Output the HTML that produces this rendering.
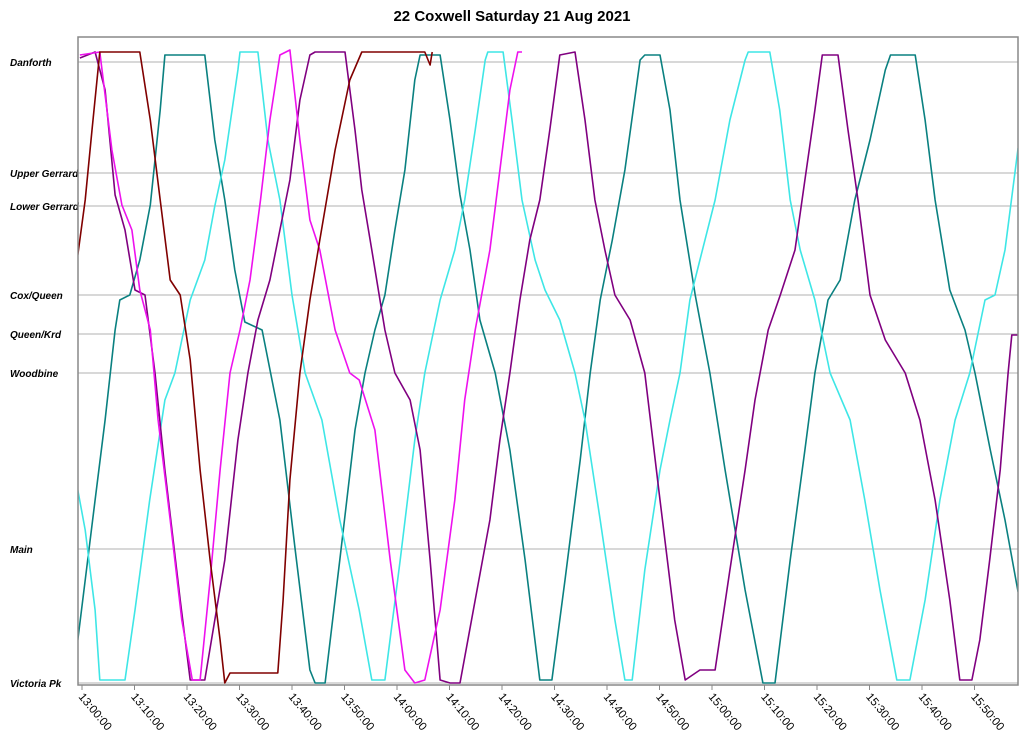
<!DOCTYPE html>
<html><head><meta charset="utf-8"><style>
body{margin:0;background:#fff;font-family:"Liberation Sans",sans-serif}
svg{display:block}
</style></head><body>
<svg id="chart" width="1024" height="744" xmlns="http://www.w3.org/2000/svg">
<rect width="1024" height="744" fill="#fff"/>
<text x="512" y="21" text-anchor="middle" font-family="Liberation Sans" font-weight="bold" font-size="15">22 Coxwell Saturday 21 Aug 2021</text>
<g id="grid"></g><g id="ylabels"></g><g id="xlabels"></g>
<clipPath id="clip"><rect x="78" y="37" width="940" height="648"/></clipPath>
<g id="series" clip-path="url(#clip)"></g>
<rect x="78" y="37" width="940" height="648" fill="none" stroke="#888" stroke-width="1.5"/>
</svg>
<script>
const stopNames=["Danforth","Upper Gerrard","Lower Gerrard","Cox/Queen","Queen/Krd","Woodbine","Main","Victoria Pk"];
const stopPos=[0,111,144,233,272,311,487,621];
const tickMinutes=[0,10,20,30,40,50,60,70,80,90,100,110,120,130,140,150,160,170];
const tickLabels=["13:00:00","13:10:00","13:20:00","13:30:00","13:40:00","13:50:00","14:00:00","14:10:00","14:20:00","14:30:00","14:40:00","14:50:00","15:00:00","15:10:00","15:20:00","15:30:00","15:40:00","15:50:00"];
const tealT=[-0.8,2.5,4.4,6.3,7.2,9.1,11.0,13.0,14.9,15.8,23.4,25.3,27.2,29.1,31.0,34.3,37.7,40.6,43.4,44.4,46.3,49.1,52.0,53.9,55.8,57.7,59.6,61.5,63.4,64.4,68.2,70.1,72.0,73.9,75.8,78.7,81.5,84.4,87.2,89.5,92.0,94.9,96.8,98.7,101.0,103.4,106.3,107.2,110.1,112.0,113.9,116.8,119.6,122.5,126.3,129.7,132.0,134.9,137.7,139.6,142.1,144.4,147.2,150.1,153.0,154.0,158.7,160.6,162.5,165.3,168.2,170.1,173.0,175.8,178.3];
const tealP=[578,438,358,268,238,233,198,143,48,-7,-7,78,138,208,260,268,358,487,608,621,621,498,368,311,268,233,168,108,18,-7,-7,58,133,188,258,311,388,498,618,618,518,398,311,238,178,108,-2,-7,-7,48,138,233,311,408,528,621,621,498,388,311,238,218,138,78,8,-7,-7,58,138,228,268,311,388,458,530];
const cyanT=[-0.8,0.6,2.5,3.4,8.2,10.1,12.9,15.8,17.7,20.6,23.4,25.3,27.2,29.7,30.1,33.5,35.4,37.7,40.0,42.5,45.7,49.1,52.8,55.2,57.7,60.6,63.4,65.3,68.2,71.0,72.9,74.9,76.8,77.3,80.2,81.9,83.8,86.3,88.2,91.0,93.9,95.8,98.7,101.5,103.4,104.8,107.2,110.1,112.0,113.9,115.8,117.7,120.6,123.4,126.3,126.9,131.0,132.9,134.9,136.8,139.6,142.5,146.3,149.1,152.0,155.2,157.7,160.6,163.4,166.3,169.1,172.0,173.9,175.8,178.3];
const cyanP=[428,468,548,618,618,548,438,338,311,238,198,144,98,8,-10,-10,78,138,233,311,358,458,548,618,618,498,378,311,238,188,138,68,-2,-10,-10,58,138,198,228,258,311,358,458,558,618,618,508,408,358,311,238,198,138,58,-2,-10,-10,48,138,188,238,311,358,438,528,618,618,538,438,358,311,238,233,188,86];
const purpleT=[-0.4,2.5,4.4,6.3,8.2,10.1,12.0,13.9,15.8,18.7,20.6,23.4,25.3,27.2,29.7,31.6,33.5,35.8,37.7,39.6,41.5,43.4,44.4,50.1,52.0,53.3,55.2,57.7,59.6,62.5,64.4,66.3,68.2,70.1,72.0,74.9,77.7,79.6,81.5,83.4,85.3,87.2,89.1,91.0,93.9,95.8,97.7,99.6,101.5,104.4,107.2,110.1,112.9,114.9,117.7,120.6,123.4,126.3,128.2,130.7,133.0,135.8,137.7,139.6,141.0,144.0,145.9,147.8,150.1,153.0,156.8,159.6,162.5,165.3,167.2,169.5,171.0,172.9,174.9,176.4,177.1,178.3];
const purpleP=[-4,-10,28,133,168,228,233,311,408,538,618,618,558,498,378,311,258,218,168,118,38,-7,-10,-10,68,128,188,268,311,338,388,498,618,621,621,538,458,378,311,238,178,138,68,-7,-10,58,138,188,233,258,311,438,558,618,608,608,508,408,338,268,233,188,118,48,-7,-7,68,138,233,278,311,358,438,538,618,618,578,498,408,311,273,273];
const magentaT=[-0.4,3.4,5.7,7.6,9.5,11.0,13.0,14.5,16.8,19.0,21.0,22.5,24.4,26.3,28.2,30.1,32.0,34.0,35.8,37.7,39.6,41.5,43.4,45.3,48.2,51.0,52.8,55.8,58.7,61.5,63.4,65.3,68.2,71.0,72.9,74.9,77.7,79.6,81.5,83.0,83.8];
const magentaP=[-7,-10,88,143,168,228,268,358,458,558,618,618,518,408,311,268,218,138,58,-7,-12,78,158,188,268,311,318,368,498,608,621,618,548,438,338,268,188,108,28,-10,-10];
const redT=[-0.8,0.6,1.9,3.4,11.0,13.0,14.9,16.8,18.7,20.6,22.5,24.4,26.3,27.2,28.2,37.3,38.3,39.6,41.5,43.4,45.3,48.2,51.0,53.3,65.3,66.3,66.7];
const redP=[193,138,68,-10,-10,58,138,218,233,298,408,498,578,621,611,611,538,418,311,238,178,88,18,-10,-10,3,-10];

const NS="http://www.w3.org/2000/svg";
const xS=m=>82+m*5.25;
const yS=p=>62+p;
const mk=(t,a,parent)=>{const e=document.createElementNS(NS,t);for(const k in a)e.setAttribute(k,a[k]);parent.appendChild(e);return e;};
const grid=document.getElementById('grid'),yl=document.getElementById('ylabels'),xl=document.getElementById('xlabels'),ser=document.getElementById('series');
stopNames.forEach((n,i)=>{
  const l=mk('line',{x1:78,x2:1018,y1:yS(stopPos[i]),y2:yS(stopPos[i]),stroke:'#999','stroke-width':0.8},grid);
  
  
  const t=mk('text',{x:10,y:yS(stopPos[i])+4,'font-size':10,'font-weight':'bold','font-style':'italic','font-family':'Liberation Sans'},yl);
  t.textContent=n;
  
  
});
tickMinutes.forEach((m,i)=>{
  const x=xS(m);
  const tk=mk('line',{x1:x,x2:x,y1:685,y2:690,stroke:'#888'},xl);
  
  
  const t=mk('text',{x:0,y:0,'font-size':11.5,'font-family':'Liberation Sans',transform:`translate(${x-4},${697}) rotate(50)`},xl);
  t.textContent=tickLabels[i];
  
  
});
const series=[["teal-bus",tealT,tealP,"#0a8080"],["cyan-bus",cyanT,cyanP,"#3ee6e6"],["purple-bus",purpleT,purpleP,"#800080"],["magenta-bus",magentaT,magentaP,"#ee11ee"],["darkred-bus",redT,redP,"#800000"]];
series.forEach(([name,T,P,c])=>{
  const pts=T.map((t,i)=>xS(t).toFixed(1)+','+yS(P[i]).toFixed(1)).join(' ');
  const pl=mk('polyline',{points:pts,fill:'none',stroke:c,'stroke-width':1.6,'stroke-linejoin':'round'},ser);
  
  
});
</script>
</body></html>
